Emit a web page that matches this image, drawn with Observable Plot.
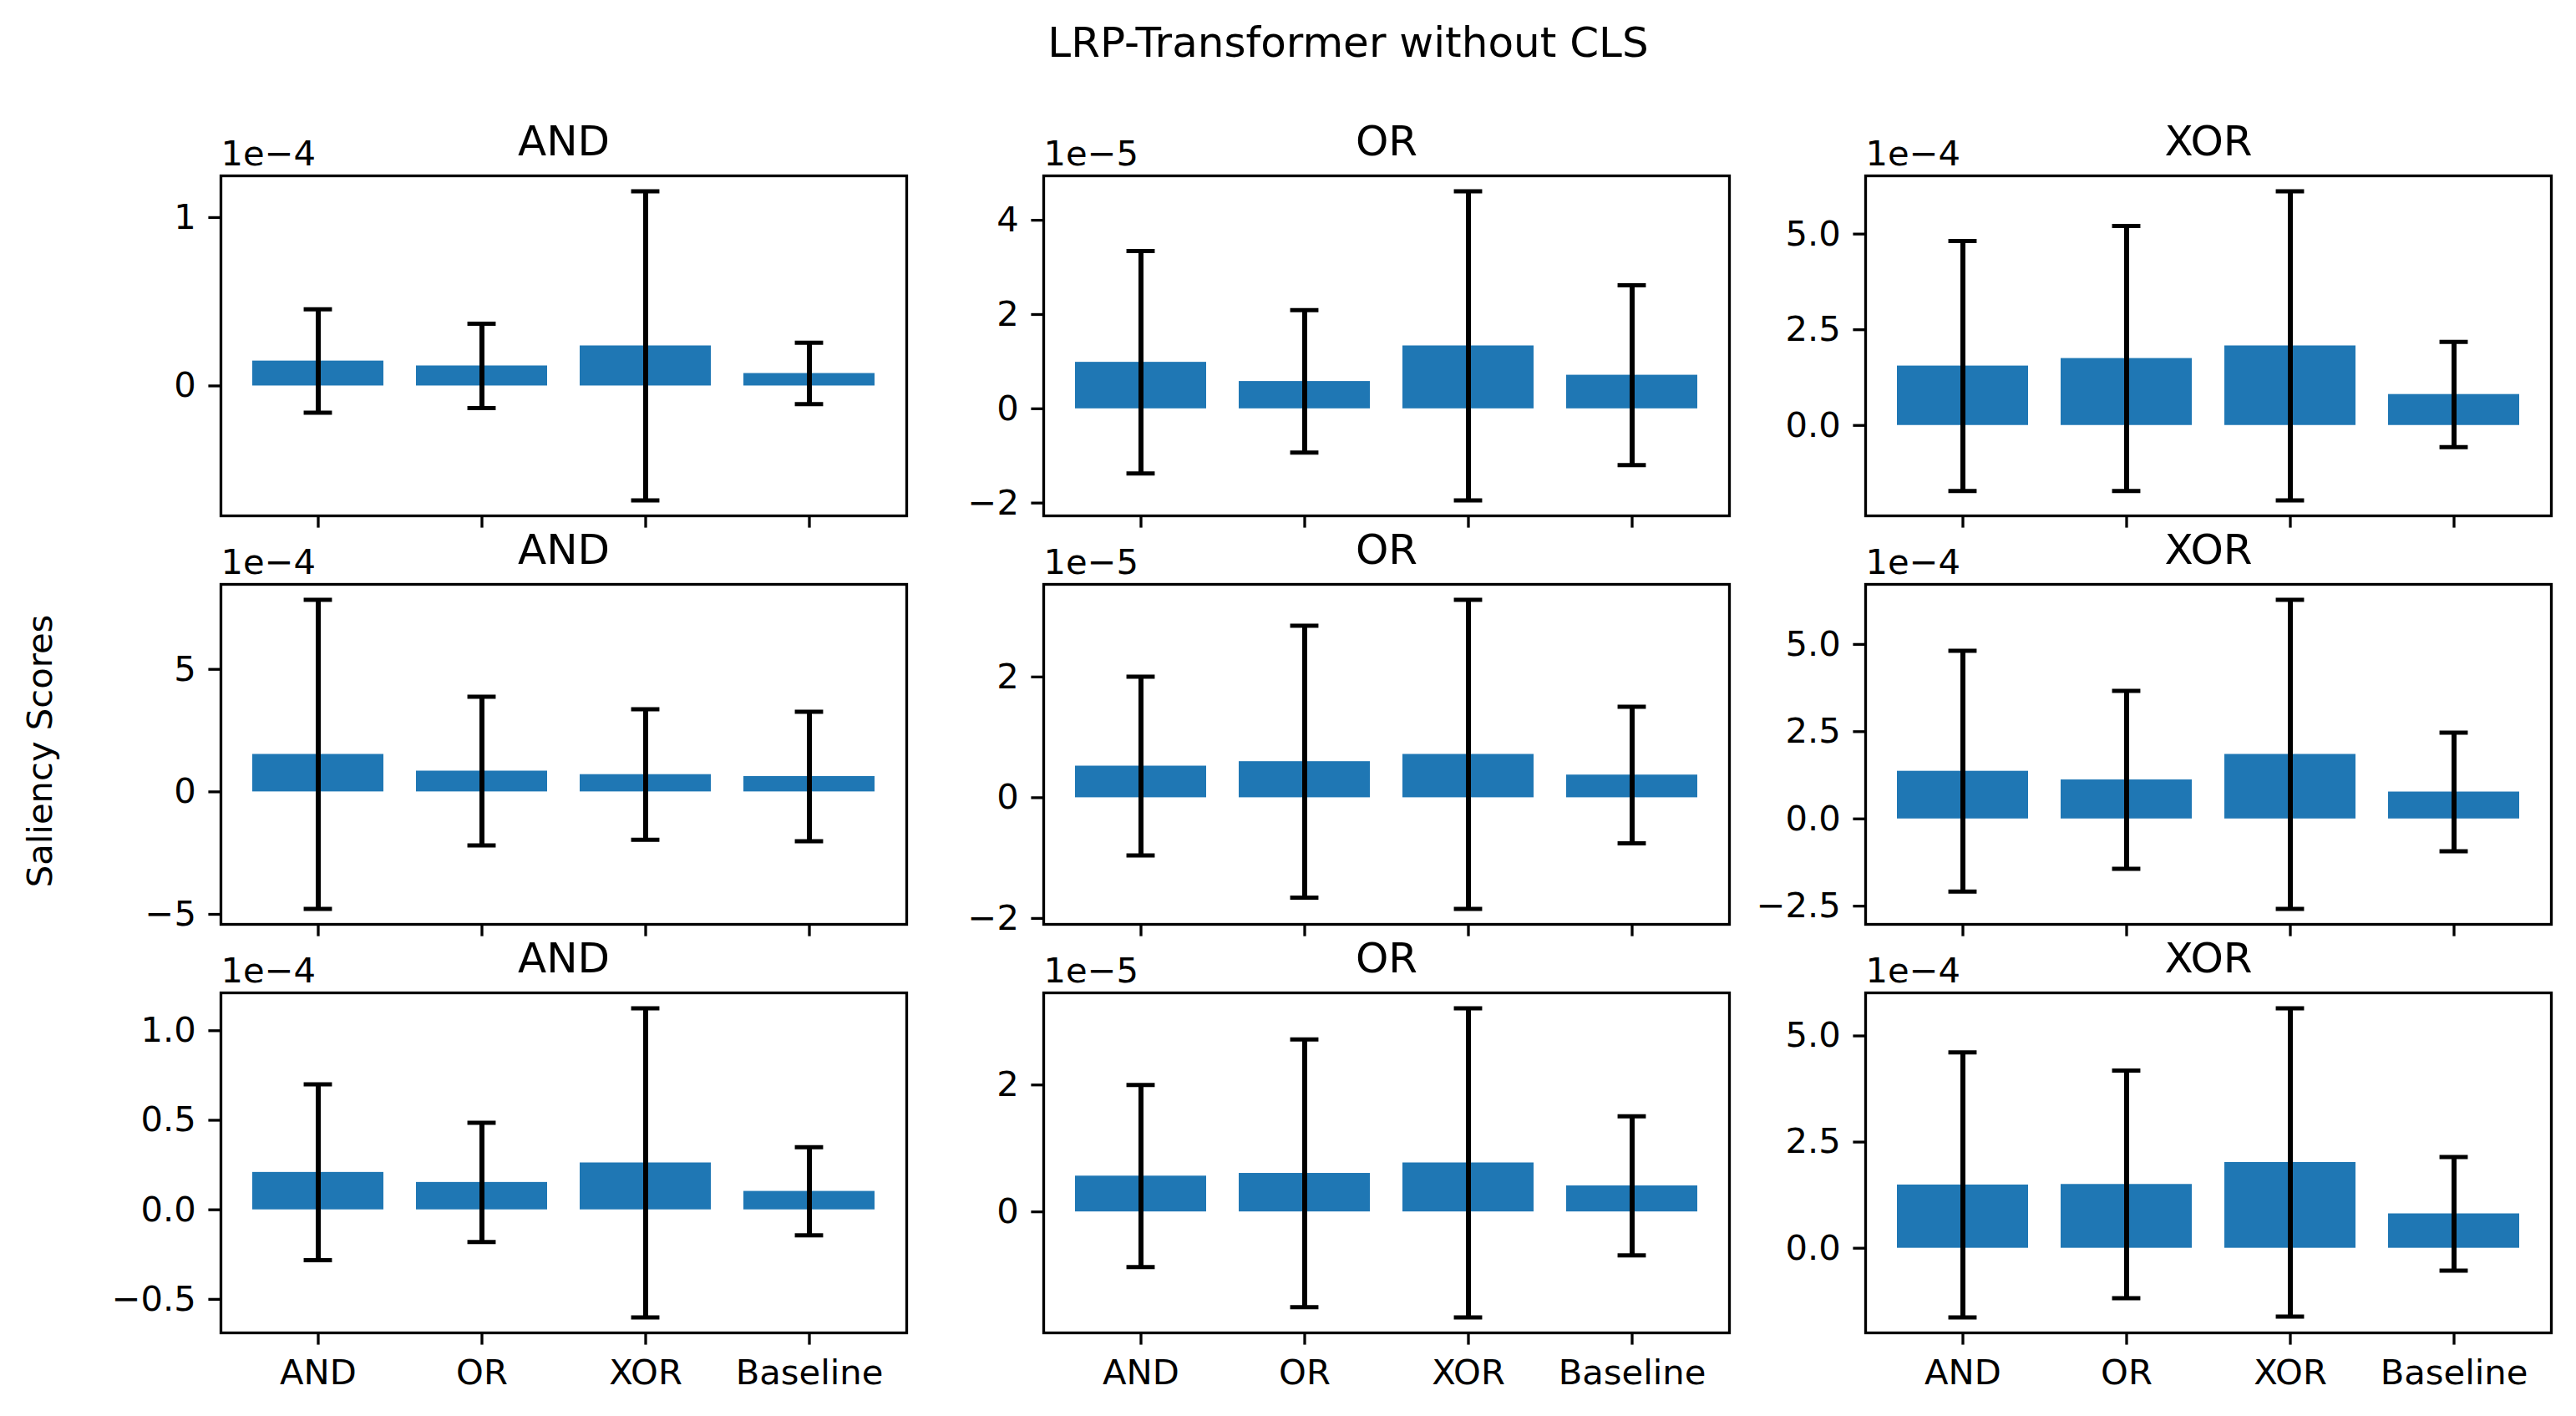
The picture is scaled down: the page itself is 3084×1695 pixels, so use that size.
<!DOCTYPE html>
<html>
<head>
<meta charset="utf-8">
<script src="https://cdn.jsdelivr.net/npm/d3@7"></script>
<script src="https://cdn.jsdelivr.net/npm/@observablehq/plot@0.6"></script>
<style>
  html, body { margin: 0; padding: 0; background: white; }
  #page { position: relative; width: 3084px; height: 1695px; background: white; font-family: "DejaVu Sans", sans-serif; color: black; }
  .abs { position: absolute; }
</style>
</head>
<body>
<div id="page"></div>
<script>
// ---------------- DATA ----------------
const categories = ["AND", "OR", "XOR", "Baseline"];
const columnTitles = ["AND", "OR", "XOR"];
const suptitle = "LRP-Transformer without CLS";
const ylabel = "Saliency Scores";

// row 1
const r1_and_mean = [1.48e-5, 1.19e-5, 2.38e-5, 0.74e-5];
const r1_and_std  = [3.07e-5, 2.51e-5, 9.18e-5, 1.82e-5];
const r1_or_mean  = [0.987e-5, 0.580e-5, 1.335e-5, 0.713e-5];
const r1_or_std   = [2.36e-5, 1.511e-5, 3.279e-5, 1.909e-5];
const r1_xor_mean = [1.553e-4, 1.749e-4, 2.079e-4, 0.809e-4];
const r1_xor_std  = [3.266e-4, 3.462e-4, 4.038e-4, 1.375e-4];
// row 2
const r2_and_mean = [1.530e-4, 0.848e-4, 0.705e-4, 0.626e-4];
const r2_and_std  = [6.308e-4, 3.032e-4, 2.662e-4, 2.640e-4];
const r2_or_mean  = [0.524e-5, 0.598e-5, 0.718e-5, 0.376e-5];
const r2_or_std   = [1.480e-5, 2.252e-5, 2.560e-5, 1.130e-5];
const r2_xor_mean = [1.366e-4, 1.118e-4, 1.849e-4, 0.771e-4];
const r2_xor_std  = [3.450e-4, 2.548e-4, 4.429e-4, 1.700e-4];
// row 3
const r3_and_mean = [0.209e-4, 0.153e-4, 0.262e-4, 0.103e-4];
const r3_and_std  = [0.491e-4, 0.333e-4, 0.863e-4, 0.246e-4];
const r3_or_mean  = [0.564e-5, 0.607e-5, 0.772e-5, 0.410e-5];
const r3_or_std   = [1.436e-5, 2.109e-5, 2.436e-5, 1.097e-5];
const r3_xor_mean = [1.490e-4, 1.503e-4, 2.020e-4, 0.810e-4];
const r3_xor_std  = [3.120e-4, 2.680e-4, 3.630e-4, 1.340e-4];

// y-axis ticks (in units of the offset) and their labels
const r1_and_ticks = [0, 1];             const r1_and_labels = ["0", "1"];
const r1_or_ticks  = [-2, 0, 2, 4];      const r1_or_labels  = ["\u22122", "0", "2", "4"];
const r1_xor_ticks = [0, 2.5, 5];        const r1_xor_labels = ["0.0", "2.5", "5.0"];
const r2_and_ticks = [-5, 0, 5];         const r2_and_labels = ["\u22125", "0", "5"];
const r2_or_ticks  = [-2, 0, 2];         const r2_or_labels  = ["\u22122", "0", "2"];
const r2_xor_ticks = [-2.5, 0, 2.5, 5];  const r2_xor_labels = ["\u22122.5", "0.0", "2.5", "5.0"];
const r3_and_ticks = [-0.5, 0, 0.5, 1];  const r3_and_labels = ["\u22120.5", "0.0", "0.5", "1.0"];
const r3_or_ticks  = [0, 2];             const r3_or_labels  = ["0", "2"];
const r3_xor_ticks = [0, 2.5, 5];        const r3_xor_labels = ["0.0", "2.5", "5.0"];

// offset exponents per panel (rows x columns)
const exponentsRow = [[-4, -5, -4], [-4, -5, -4], [-4, -5, -4]];

const panels = [
  [ {mean: r1_and_mean, std: r1_and_std, ticks: r1_and_ticks, labels: r1_and_labels},
    {mean: r1_or_mean,  std: r1_or_std,  ticks: r1_or_ticks,  labels: r1_or_labels},
    {mean: r1_xor_mean, std: r1_xor_std, ticks: r1_xor_ticks, labels: r1_xor_labels} ],
  [ {mean: r2_and_mean, std: r2_and_std, ticks: r2_and_ticks, labels: r2_and_labels},
    {mean: r2_or_mean,  std: r2_or_std,  ticks: r2_or_ticks,  labels: r2_or_labels},
    {mean: r2_xor_mean, std: r2_xor_std, ticks: r2_xor_ticks, labels: r2_xor_labels} ],
  [ {mean: r3_and_mean, std: r3_and_std, ticks: r3_and_ticks, labels: r3_and_labels},
    {mean: r3_or_mean,  std: r3_or_std,  ticks: r3_or_ticks,  labels: r3_or_labels},
    {mean: r3_xor_mean, std: r3_xor_std, ticks: r3_xor_ticks, labels: r3_xor_labels} ]
];

// ---------------- LAYOUT ----------------
const axLefts = [264, 1249, 2233];
const axTops = [210, 699, 1188];
const W = 821, H = 407;
const ML = 160, MR = 20, MT = 100, MB = 100;
const FS = 41.7, TFS = 50;
const capWidth = 34;
const step = W / (categories.length - 0.2 + 2 * 0.19);
const capInset = (step * 0.8 - capWidth) / 2;

const page = document.getElementById("page");

function makePanel(p, exp, title, showX) {
  const scale = Math.pow(10, exp);
  const data = categories.map((c, i) => ({
    cat: c, mean: p.mean[i], lo: p.mean[i] - p.std[i], hi: p.mean[i] + p.std[i]
  }));
  const lo = Math.min(0, d3.min(data, d => d.lo));
  const hi = Math.max(0, d3.max(data, d => d.hi));
  const pad = (hi - lo) * 0.05;
  const tickVals = p.ticks.map(t => t * scale);
  const fmt = new Map(tickVals.map((t, i) => [t, p.labels[i]]));
  return Plot.plot({
    width: ML + W + MR,
    height: MT + H + MB,
    marginLeft: ML, marginRight: MR, marginTop: MT, marginBottom: MB,
    style: {fontFamily: "DejaVu Sans", fontSize: FS + "px", color: "black", background: "transparent", overflow: "visible"},
    x: {domain: categories, paddingInner: 0.2, paddingOuter: 0.19, label: null},
    y: {domain: [lo - pad, hi + pad], label: null},
    marks: [
      Plot.barY(data, {x: "cat", y: "mean", fill: "#1f77b4"}),
      Plot.ruleX(data, {x: "cat", y1: "lo", y2: "hi", stroke: "black", strokeWidth: 6}),
      Plot.tickY(data, {x: "cat", y: "lo", stroke: "black", strokeWidth: 5, insetLeft: capInset, insetRight: capInset}),
      Plot.tickY(data, {x: "cat", y: "hi", stroke: "black", strokeWidth: 5, insetLeft: capInset, insetRight: capInset}),
      Plot.frame({stroke: "black", strokeWidth: 3.3}),
      Plot.axisY({ticks: tickVals, tickFormat: d => fmt.get(d), tickSize: 14.6, tickPadding: 15, strokeWidth: 3.3, stroke: "black", fill: "black", fontSize: FS, label: null}),
      Plot.axisX({tickSize: 14.6, tickPadding: 17, strokeWidth: 3.3, stroke: "black", fill: "black", fontSize: FS, label: null,
                  tickFormat: showX ? (d => d) : (() => "")}),
      Plot.text([title], {frameAnchor: "top", dy: -25, lineAnchor: "bottom", fontSize: TFS, fill: "black"}),
      Plot.text(["1e\u2212" + Math.abs(exp)], {frameAnchor: "top-left", dy: -13, textAnchor: "start", lineAnchor: "bottom", fontSize: FS, fill: "black"})
    ]
  });
}

for (let r = 0; r < 3; r++) {
  for (let c = 0; c < 3; c++) {
    const svg = makePanel(panels[r][c], exponentsRow[r][c], columnTitles[c], r === 2);
    svg.classList.add("abs");
    svg.style.left = (axLefts[c] - ML) + "px";
    svg.style.top = (axTops[r] - MT) + "px";
    page.appendChild(svg);
  }
}

// suptitle
const t = document.createElement("div");
t.className = "abs";
t.textContent = suptitle;
t.style.cssText += `left:1614px; top:26px; transform:translateX(-50%); font-size:${TFS}px; line-height:1; white-space:nowrap;`;
page.appendChild(t);

// shared y label
const yl = document.createElement("div");
yl.className = "abs";
yl.textContent = ylabel;
yl.style.cssText += `left:48px; top:899px; transform:translate(-50%,-50%) rotate(-90deg); font-size:${FS}px; line-height:1; white-space:nowrap;`;
page.appendChild(yl);
</script>
</body>
</html>
